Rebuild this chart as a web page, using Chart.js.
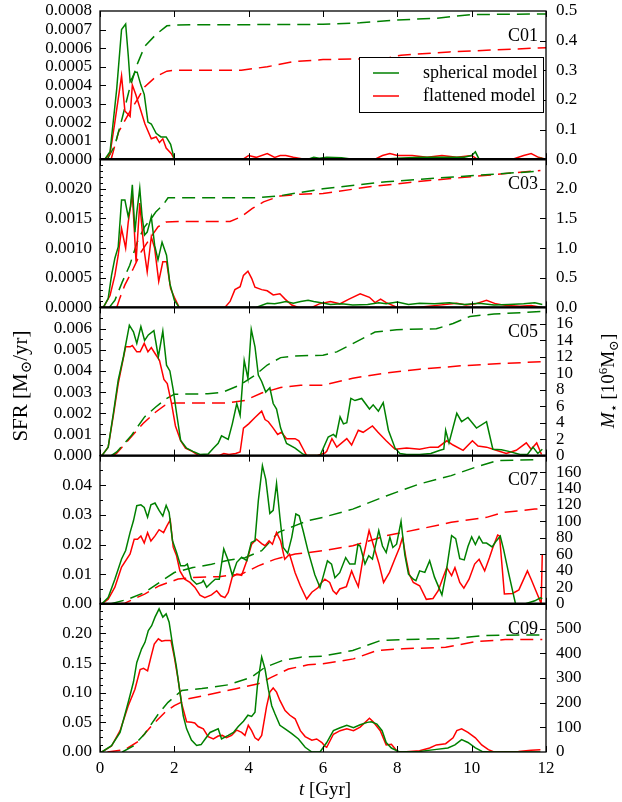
<!DOCTYPE html>
<html>
<head>
<meta charset="utf-8">
<script src="https://cdn.jsdelivr.net/npm/chart.js@4"></script>
<style>
  html, body { margin: 0; padding: 0; background: #fff; }
  #wrap { position: relative; width: 622px; height: 802px; }
  #wrap canvas { position: absolute; left: 0; top: 0; }
</style>
</head>
<body>
<div id="wrap"></div>
<script>
// panels and axes
const panelNames = ['C01', 'C03', 'C05', 'C07', 'C09'];
const sfrMax = [0.0008, 0.0025, 0.007, 0.05, 0.25];
const sfrStep = [0.0001, 0.0005, 0.001, 0.01, 0.05];
const sfrMinor = [0, 0.0001, 0.0005, 0.005, 0.0125];
const sfrDigits = [4, 4, 3, 2, 2];
const massMax = [0.5, 2.5, 18, 180, 600];
const massStep = [0.1, 0.5, 2, 20, 100];
const massDigits = [1, 1, 0, 0, 0];
const timeTicks = [0, 2, 4, 6, 8, 10, 12];
const legendLabels = ['spherical model', 'flattened model'];

// [t in Gyr, value]
const c01SphSfr = [[0,0],[0.13,0],[0.27,0.00004],[0.45,0.00038],[0.58,0.0007],[0.69,0.00073],[0.76,0.00056],[0.81,0.00042],[0.87,0.00044],[0.94,0.00047],[1.0,0.00047],[1.1,0.0004],[1.19,0.00035],[1.29,0.0002],[1.38,0.00019],[1.51,0.00014],[1.64,0.00012],[1.78,0.00012],[1.9,0.00008],[2.0,0],[5.6,0],[5.75,0.00001],[5.9,0.000005],[6.1,0.00001],[6.5,0.000008],[6.8,0],[7.6,0],[8.0,0.000005],[8.6,0.00001],[9.2,0.00001],[9.8,0.00001],[10.0,0.00002],[10.1,0.00004],[10.2,0],[11.5,0],[11.9,0.000005]];
const c01FlatSfr = [[0,0],[0.13,0],[0.27,0.00003],[0.4,0.0002],[0.58,0.00045],[0.67,0.00026],[0.81,0.00023],[0.87,0.0004],[0.96,0.00035],[1.07,0.00028],[1.21,0.00019],[1.38,0.00011],[1.51,0.00012],[1.6,0.00009],[1.69,0.00011],[1.78,0.00006],[1.92,0.00003],[2.0,0],[3.85,0],[4.0,0.00002],[4.2,0.00001],[4.5,0.00003],[4.7,0.00001],[4.85,0.00002],[5.0,0.00002],[5.2,0.00001],[5.5,0],[7.4,0],[7.6,0.00002],[7.8,0.00003],[8.0,0.00002],[8.4,0.00002],[8.8,0.00001],[9.2,0.00002],[9.6,0.00001],[10.0,0.00002],[10.15,0],[11.1,0],[11.4,0.00002],[11.6,0.00003],[11.8,0.00001],[12,0]];
const c01SphMass = [[0.2,0],[0.4,0.047],[0.6,0.14],[0.8,0.24],[1.0,0.32],[1.2,0.38],[1.5,0.42],[1.8,0.45],[2.0,0.453],[6.0,0.455],[7.0,0.46],[8.0,0.47],[9.0,0.475],[10.0,0.488],[12.0,0.49]];
const c01FlatMass = [[0.3,0],[0.5,0.092],[0.8,0.16],[1.0,0.2],[1.2,0.244],[1.5,0.278],[1.8,0.297],[2.0,0.3],[3.8,0.3],[4.5,0.312],[5.2,0.329],[6.0,0.336],[7.7,0.34],[8.1,0.351],[9.4,0.362],[11.6,0.374],[12,0.376]];

const c03SphSfr = [[0,0],[0.09,0],[0.22,0.00015],[0.31,0.00054],[0.4,0.00083],[0.49,0.00102],[0.58,0.00181],[0.67,0.00181],[0.76,0.00153],[0.82,0.0017],[0.87,0.00207],[0.94,0.00127],[0.99,0.0016],[1.07,0.00201],[1.13,0.00155],[1.2,0.00122],[1.27,0.00127],[1.38,0.00153],[1.47,0.00105],[1.56,0.0008],[1.67,0.0011],[1.79,0.00088],[1.88,0.0004],[2.0,0.00012],[2.13,0],[4.2,0],[4.5,0.00007],[4.7,0.00006],[4.85,0.00008],[5.0,0.0001],[5.2,0.00007],[5.4,0.0001],[5.6,0.00012],[5.75,0.0001],[5.95,0.00008],[6.2,0.00005],[6.5,0.00006],[6.8,0.00004],[7.2,0.00005],[7.5,0.00008],[7.7,0.00006],[8.0,0.00009],[8.3,0.00005],[8.6,0.00007],[9.0,0.00006],[9.4,0.00008],[9.8,0.00005],[10.2,0.00007],[10.6,0.00004],[11.0,0.00005],[11.4,0.00006],[11.7,0.00008],[11.9,0.00005]];
const c03FlatSfr = [[0,0],[0.09,0],[0.27,0.0002],[0.4,0.00054],[0.49,0.00088],[0.58,0.00133],[0.69,0.001],[0.76,0.00144],[0.87,0.00191],[0.97,0.00077],[1.07,0.00176],[1.18,0.001],[1.27,0.0006],[1.38,0.00119],[1.47,0.001],[1.58,0.00044],[1.69,0.00077],[1.79,0.00077],[1.9,0.00032],[2.0,0.00017],[2.13,0],[3.36,0],[3.5,0.0001],[3.63,0.0003],[3.77,0.00035],[3.86,0.00054],[3.98,0.00061],[4.08,0.00049],[4.17,0.00034],[4.35,0.0003],[4.5,0.00028],[4.66,0.00021],[4.84,0.00023],[4.98,0.00014],[5.16,0.00004],[5.34,0],[5.7,0],[5.9,0.00006],[6.2,0.0001],[6.45,0.00006],[6.7,0.00014],[7.0,0.00023],[7.25,0.00017],[7.4,0.00008],[7.55,0.00014],[7.7,0.00008],[8.0,0],[8.5,0],[9.0,0.00003],[9.6,0.00007],[9.85,0.00004],[10.1,0.00006],[10.4,0.00012],[10.65,0.00006],[10.95,0.00003],[11.3,0.00002],[11.6,0.00003],[11.9,0]];
const c03SphMass = [[0.25,0],[0.4,0.12],[0.6,0.43],[0.8,0.71],[1.0,1.1],[1.2,1.36],[1.38,1.5],[1.5,1.61],[1.7,1.73],[1.83,1.85],[4.25,1.85],[4.8,1.88],[6.0,2.0],[7.7,2.12],[9.5,2.2],[11.85,2.3]];
const c03FlatMass = [[0.45,0],[0.53,0.15],[0.67,0.38],[0.9,0.66],[1.1,0.93],[1.34,1.16],[1.56,1.36],[1.78,1.44],[2.1,1.45],[3.5,1.45],[3.8,1.53],[4.1,1.67],[4.4,1.78],[4.85,1.88],[5.4,1.91],[6.0,1.92],[7.2,2.03],[8.5,2.12],[9.9,2.2],[11.85,2.31]];

const c05SphSfr = [[0,0],[0.05,0],[0.22,0.0004],[0.36,0.002],[0.49,0.00356],[0.63,0.00467],[0.79,0.00616],[0.9,0.00585],[0.99,0.0053],[1.1,0.0061],[1.2,0.00544],[1.3,0.0057],[1.45,0.0059],[1.57,0.00467],[1.69,0.00588],[1.79,0.00427],[1.88,0.004],[1.97,0.0031],[2.06,0.002],[2.17,0.00072],[2.33,0.00035],[2.5,0.0002],[2.69,0.00005],[2.91,0.00008],[3.05,0.00035],[3.18,0.00058],[3.27,0.00093],[3.45,0.00076],[3.56,0.0015],[3.68,0.00246],[3.77,0.0019],[3.88,0.0045],[3.98,0.00364],[4.07,0.00596],[4.17,0.00514],[4.26,0.0038],[4.35,0.0035],[4.46,0.003],[4.57,0.0032],[4.66,0.00246],[4.75,0.0022],[4.86,0.0013],[5.02,0.00057],[5.25,0.00035],[5.45,0.00008],[5.6,0],[5.92,0],[6.14,0.00088],[6.28,0.001],[6.35,0.00088],[6.46,0.00183],[6.55,0.0015],[6.64,0.00155],[6.75,0.0027],[6.86,0.0026],[7.04,0.0027],[7.25,0.0022],[7.35,0.0024],[7.49,0.0021],[7.62,0.0025],[7.76,0.0012],[7.94,0.00035],[8.07,0.0001],[8.25,0.00005],[8.6,0.00005],[8.9,0.0001],[9.15,0.00025],[9.25,0.0003],[9.3,0.0012],[9.39,0.0006],[9.6,0.002],[9.73,0.0016],[9.9,0.0018],[10.13,0.0013],[10.4,0.0016],[10.57,0.0003],[10.8,0.00028],[11.0,0.0002],[11.3,0.00005],[11.5,0.00005],[11.65,0.0004],[11.78,0.0001],[11.9,0.0003]];
const c05FlatSfr = [[0,0],[0.05,0],[0.22,0.0004],[0.36,0.0019],[0.49,0.0034],[0.69,0.00514],[0.81,0.00514],[0.87,0.0052],[0.99,0.0049],[1.08,0.0049],[1.19,0.0053],[1.29,0.0049],[1.38,0.0051],[1.49,0.0048],[1.6,0.0045],[1.72,0.0036],[1.81,0.0034],[1.92,0.0025],[2.03,0.0014],[2.17,0.0007],[2.3,0.00035],[2.48,0.0002],[2.66,0],[3.2,0],[3.33,0.0001],[3.47,0.00005],[3.65,0.0001],[3.77,0.00017],[3.86,0.0013],[4.0,0.0015],[4.17,0.0018],[4.35,0.0021],[4.44,0.0017],[4.53,0.0016],[4.66,0.0013],[4.78,0.001],[4.88,0.0011],[5.02,0.0008],[5.25,0.0008],[5.35,0.0007],[5.47,0.0003],[5.56,0],[5.83,0],[6.05,0.00012],[6.1,0.0002],[6.24,0.0008],[6.37,0.0004],[6.64,0.0008],[6.77,0.0005],[6.95,0.0012],[7.08,0.0011],[7.33,0.0014],[7.48,0.0011],[7.7,0.0007],[7.94,0.0003],[8.25,0.00036],[8.6,0.0003],[8.89,0.0004],[9.1,0.0004],[9.33,0.0007],[9.5,0.0005],[9.77,0.00025],[10.02,0.0007],[10.17,0.00045],[10.4,0.0004],[10.66,0.00025],[10.93,0.0001],[11.2,0.00025],[11.47,0.0006],[11.6,0.0003],[11.75,0.0006],[11.88,0.00005]];
const c05SphMass = [[0.3,0],[0.45,0.45],[0.85,2.47],[1.2,4.7],[1.5,5.9],[1.78,6.9],[2.0,7.46],[2.9,7.5],[3.3,7.7],[3.76,8.55],[4.17,9.77],[4.5,11.0],[4.86,11.9],[5.25,12.1],[6.0,12.2],[6.37,12.6],[6.8,13.6],[7.4,15.0],[7.98,15.3],[9.05,15.4],[9.5,16.05],[9.95,16.9],[10.6,17.2],[11.9,17.5]];
const c05FlatMass = [[0.35,0],[0.45,0.3],[0.76,1.86],[1.16,3.9],[1.5,5.3],[1.74,6.1],[2.0,6.4],[3.45,6.4],[3.9,6.7],[4.35,7.6],[4.86,8.27],[5.4,8.55],[6.0,8.55],[6.8,9.4],[7.7,10.05],[8.6,10.5],[9.7,10.9],[10.85,11.2],[11.9,11.4]];

const c07SphSfr = [[0,0],[0.05,0],[0.22,0.0021],[0.4,0.0083],[0.58,0.0151],[0.69,0.018],[0.81,0.0241],[0.9,0.028],[0.99,0.0331],[1.1,0.0334],[1.19,0.0325],[1.28,0.0292],[1.37,0.0334],[1.48,0.034],[1.59,0.0315],[1.69,0.0296],[1.78,0.0332],[1.86,0.0308],[1.95,0.0213],[2.06,0.0173],[2.17,0.0128],[2.28,0.0128],[2.35,0.0134],[2.46,0.0083],[2.6,0.0066],[2.74,0.0072],[2.78,0.0079],[2.87,0.0056],[3.0,0.0072],[3.1,0.0083],[3.21,0.0083],[3.33,0.0185],[3.45,0.0146],[3.56,0.0096],[3.68,0.014],[3.81,0.0157],[3.95,0.0146],[4.07,0.0207],[4.17,0.0213],[4.26,0.0348],[4.37,0.0466],[4.46,0.042],[4.57,0.0305],[4.66,0.0315],[4.75,0.0406],[4.84,0.0293],[4.93,0.019],[5.05,0.017],[5.16,0.0225],[5.27,0.0303],[5.36,0.0297],[5.47,0.0244],[5.6,0.0177],[5.78,0.0098],[5.92,0.0055],[6.0,0.009],[6.12,0.0145],[6.23,0.0134],[6.32,0.0088],[6.45,0.0105],[6.61,0.0156],[6.72,0.0134],[6.86,0.0134],[6.94,0.02],[7.0,0.0195],[7.13,0.0134],[7.23,0.0162],[7.33,0.0151],[7.5,0.0247],[7.6,0.0195],[7.7,0.0173],[7.8,0.0224],[7.88,0.019],[7.98,0.0201],[8.1,0.0278],[8.2,0.0167],[8.3,0.01],[8.43,0.0083],[8.5,0.0078],[8.6,0.0111],[8.74,0.0106],[8.87,0.0145],[9.0,0.009],[9.2,0.003],[9.3,0.0095],[9.46,0.023],[9.57,0.022],[9.68,0.0152],[9.8,0.0148],[9.9,0.0193],[10.0,0.0226],[10.1,0.02],[10.2,0.0227],[10.3,0.0205],[10.4,0.0205],[10.55,0.0192],[10.65,0.021],[10.77,0.0228],[10.86,0.0183],[11.0,0.01],[11.18,0],[11.45,0],[11.7,0.001],[11.85,0.002],[11.9,0.0017]];
const c07FlatSfr = [[0,0],[0.05,0],[0.22,0.0015],[0.4,0.0056],[0.58,0.0124],[0.81,0.0168],[0.92,0.0218],[1.01,0.0218],[1.1,0.0229],[1.19,0.0205],[1.28,0.024],[1.37,0.0212],[1.48,0.0229],[1.59,0.025],[1.71,0.024],[1.8,0.0263],[1.89,0.0283],[1.97,0.0191],[2.06,0.0162],[2.15,0.0111],[2.28,0.0083],[2.42,0.0072],[2.55,0.0056],[2.69,0.0029],[2.82,0.0021],[3.0,0.003],[3.14,0.0044],[3.25,0.0027],[3.36,0.0021],[3.45,0.0038],[3.56,0.0091],[3.68,0.01],[3.81,0.0096],[3.95,0.0145],[4.08,0.0201],[4.21,0.0218],[4.35,0.0203],[4.44,0.0196],[4.55,0.0212],[4.64,0.0201],[4.75,0.0241],[4.86,0.0212],[4.97,0.015],[5.1,0.0167],[5.25,0.0105],[5.39,0.0061],[5.56,0.0016],[5.7,0.0039],[5.87,0.0055],[5.92,0.0066],[6.05,0.0083],[6.18,0.0072],[6.27,0.0044],[6.36,0.0033],[6.45,0.005],[6.63,0.0058],[6.77,0.0111],[6.86,0.0083],[6.95,0.0058],[7.08,0.0156],[7.24,0.0247],[7.35,0.0201],[7.51,0.0134],[7.63,0.0072],[7.79,0.0106],[7.93,0.015],[8.06,0.019],[8.14,0.0224],[8.23,0.0156],[8.32,0.01],[8.43,0.0072],[8.6,0.0061],[8.78,0.0015],[8.96,0.0018],[9.1,0.0044],[9.23,0.0089],[9.33,0.0122],[9.46,0.0095],[9.55,0.0122],[9.68,0.0072],[9.79,0.0053],[9.93,0.0083],[10.08,0.0134],[10.2,0.015],[10.35,0.0111],[10.48,0.0156],[10.57,0.019],[10.7,0.0232],[10.75,0.0229],[10.88,0.0033],[11.1,0.0035],[11.27,0.0047],[11.5,0.0111],[11.6,0.0083],[11.8,0.0022],[11.87,0],[11.9,0.0168]];
const c07SphMass = [[0.3,0],[0.76,5.7],[1.2,13.8],[1.6,26],[2.0,38],[2.5,44],[3.0,48],[3.45,53],[3.9,56],[4.35,64.5],[4.8,86.7],[5.25,95],[5.6,101],[6.0,105],[6.8,115],[7.7,131],[8.6,145.6],[9.45,155.7],[10.1,165.8],[10.7,174],[11.8,175]];
const c07FlatMass = [[0.5,0],[0.67,0.8],[1.2,11.8],[1.6,22],[2.1,30],[2.5,32],[3.2,33],[3.8,36],[4.26,46],[4.7,54],[5.25,60.4],[6.0,64.5],[6.8,70.5],[7.7,82.7],[8.6,90.8],[9.45,99],[10.4,105],[10.85,111],[11.7,115],[11.9,115.5]];

const c09SphSfr = [[0,0],[0.05,0],[0.31,0.0107],[0.54,0.033],[0.76,0.084],[0.9,0.118],[0.99,0.151],[1.12,0.174],[1.21,0.185],[1.3,0.205],[1.39,0.213],[1.48,0.2275],[1.59,0.2415],[1.69,0.2275],[1.78,0.233],[1.86,0.219],[1.95,0.182],[2.05,0.146],[2.15,0.101],[2.24,0.061],[2.33,0.039],[2.46,0.02],[2.6,0.011],[2.72,0.0125],[2.83,0.022],[2.96,0.033],[3.18,0.039],[3.27,0.022],[3.45,0.028],[3.59,0.033],[3.72,0.043],[3.86,0.052],[3.98,0.062],[4.08,0.06],[4.17,0.067],[4.24,0.115],[4.35,0.16],[4.44,0.14],[4.53,0.106],[4.62,0.078],[4.71,0.064],[4.84,0.045],[4.98,0.039],[5.16,0.031],[5.34,0.022],[5.52,0.0079],[5.7,0],[5.92,0],[6.1,0.016],[6.28,0.036],[6.46,0.041],[6.64,0.045],[6.82,0.041],[7.0,0.046],[7.19,0.05],[7.3,0.051],[7.45,0.047],[7.59,0.036],[7.7,0.016],[7.84,0.0067],[8.06,0],[8.6,0.001],[9.0,0.004],[9.36,0.0067],[9.55,0.012],[9.73,0.021],[9.9,0.016],[10.1,0.007],[10.28,0.001],[10.55,0],[11.85,0]];
const c09FlatSfr = [[0,0],[0.05,0],[0.31,0.01],[0.54,0.036],[0.76,0.078],[0.94,0.106],[1.08,0.139],[1.17,0.141],[1.28,0.137],[1.37,0.16],[1.46,0.182],[1.57,0.191],[1.66,0.187],[1.75,0.188],[1.91,0.188],[2.0,0.16],[2.1,0.123],[2.2,0.081],[2.33,0.051],[2.46,0.05],[2.55,0.049],[2.64,0.043],[2.78,0.039],[2.91,0.026],[3.05,0.022],[3.18,0.027],[3.29,0.028],[3.4,0.024],[3.54,0.028],[3.68,0.037],[3.81,0.033],[3.9,0.028],[3.99,0.045],[4.08,0.036],[4.17,0.024],[4.26,0.02],[4.35,0.028],[4.48,0.076],[4.57,0.101],[4.66,0.108],[4.75,0.101],[4.84,0.087],[4.98,0.07],[5.11,0.062],[5.25,0.056],[5.39,0.036],[5.52,0.026],[5.7,0.02],[5.83,0.022],[5.97,0.016],[6.05,0.01],[6.1,0.008],[6.28,0.03],[6.46,0.036],[6.64,0.039],[6.82,0.036],[7.0,0.042],[7.25,0.057],[7.35,0.051],[7.54,0.036],[7.7,0.012],[7.84,0.013],[8.0,0.001],[8.15,0],[8.6,0.002],[8.87,0.0067],[9.05,0.012],[9.3,0.014],[9.5,0.024],[9.6,0.036],[9.73,0.039],[9.9,0.033],[10.1,0.024],[10.27,0.012],[10.45,0.004],[10.6,0],[11.26,0.001],[11.6,0.003],[11.85,0.004]];
const c09SphMass = [[0.6,0],[0.9,25],[1.2,73],[1.57,154],[1.83,201],[2.2,249],[2.74,257],[3.45,272],[4.08,303],[4.44,343],[4.9,370],[5.4,384],[6.0,388],[6.8,411],[7.54,451],[8.15,455],[9.5,460],[10.4,472],[11.66,474],[11.9,474]];
const c09FlatMass = [[0.2,0],[0.67,9],[1.03,43],[1.39,107],[1.75,161],[2.0,188],[2.37,215],[3.0,235],[3.63,255],[4.26,276],[4.62,303],[5.07,336],[5.6,353],[6.0,357],[6.82,377],[7.45,411],[8.15,418],[9.3,424],[10.1,447],[10.9,455],[11.9,455]];

const sphSfr = [c01SphSfr, c03SphSfr, c05SphSfr, c07SphSfr, c09SphSfr];
const flatSfr = [c01FlatSfr, c03FlatSfr, c05FlatSfr, c07FlatSfr, c09FlatSfr];
const sphMass = [c01SphMass, c03SphMass, c05SphMass, c07SphMass, c09SphMass];
const flatMass = [c01FlatMass, c03FlatMass, c05FlatMass, c07FlatMass, c09FlatMass];

const GREEN = '#008000';
const RED = '#ff0000';
const FONT = '"Liberation Serif", "DejaVu Serif", serif';
const W = 622, H = 802;
const LEFT = 100, RIGHT = 546, TOP = 11, BOTTOM = 752;
const PH = (BOTTOM - TOP) / 5;
const DASH = [13, 7];

function drawPieces(ctx, pieces, cx, cy, rot) {
    ctx.save();
    ctx.translate(cx, cy);
    if (rot) ctx.rotate(rot);
    ctx.textAlign = 'left';
    ctx.textBaseline = 'alphabetic';
    ctx.fillStyle = '#000';
    let total = 0;
    pieces.forEach(p => { ctx.font = p.font; p.w = ctx.measureText(p.text).width; total += p.w; });
    let px = -total / 2;
    pieces.forEach(p => { ctx.font = p.font; ctx.fillText(p.text, px, p.dy || 0); px += p.w; });
    ctx.restore();
}

function decor(i) {
    return {
        id: 'decor' + i,
        afterDatasetsDraw(chart) {
            const ctx = chart.ctx;
            const a = chart.chartArea;
            const x = chart.scales.x, y = chart.scales.y, y1 = chart.scales.y1;
            ctx.save();
            ctx.strokeStyle = '#000';

            // tick marks, pointing inwards
            ctx.lineWidth = 1;
            ctx.beginPath();
            timeTicks.forEach(t => {
                const px = Math.round(x.getPixelForValue(t)) + 0.5;
                ctx.moveTo(px, a.bottom); ctx.lineTo(px, a.bottom - 6);
                ctx.moveTo(px, a.top); ctx.lineTo(px, a.top + 6);
            });
            const nMaj = Math.round(sfrMax[i] / sfrStep[i]);
            for (let k = 1; k < nMaj; k++) {
                const py = Math.round(y.getPixelForValue(k * sfrStep[i])) + 0.5;
                ctx.moveTo(a.left, py); ctx.lineTo(a.left + 6, py);
            }
            if (sfrMinor[i]) {
                const nMin = Math.round(sfrMax[i] / sfrMinor[i]);
                for (let k = 1; k < nMin; k++) {
                    const py = Math.round(y.getPixelForValue(k * sfrMinor[i])) + 0.5;
                    ctx.moveTo(a.left, py); ctx.lineTo(a.left + 3, py);
                }
            }
            const nMass = Math.round(massMax[i] / massStep[i]);
            for (let k = 1; k < nMass; k++) {
                const py = Math.round(y1.getPixelForValue(k * massStep[i])) + 0.5;
                ctx.moveTo(a.right, py); ctx.lineTo(a.right - 6, py);
            }
            ctx.stroke();

            // frame
            ctx.lineWidth = 1.3;
            ctx.strokeRect(a.left, a.top, a.right - a.left, a.bottom - a.top);
            if (i < 4) {
                ctx.lineWidth = 2.4;
                ctx.beginPath();
                ctx.moveTo(a.left, a.bottom); ctx.lineTo(a.right, a.bottom);
                ctx.stroke();
            }

            // panel name
            ctx.fillStyle = '#000';
            ctx.font = '18px ' + FONT;
            ctx.textAlign = 'right';
            ctx.textBaseline = 'middle';
            ctx.fillText(panelNames[i], a.right - 8, a.top + 25);

            if (i === 0) {
                const bx = 359, by = 57, bw = 184, bh = 55;
                ctx.fillStyle = '#fff';
                ctx.fillRect(bx, by, bw, bh);
                ctx.lineWidth = 1;
                ctx.strokeStyle = '#000';
                ctx.strokeRect(bx + 0.5, by + 0.5, bw, bh);
                [GREEN, RED].forEach((c, k) => {
                    const ly = by + 16 + k * 23;
                    ctx.strokeStyle = c;
                    ctx.lineWidth = 1.5;
                    ctx.beginPath();
                    ctx.moveTo(bx + 14, ly); ctx.lineTo(bx + 40, ly);
                    ctx.stroke();
                    ctx.fillStyle = '#000';
                    ctx.font = '18px ' + FONT;
                    ctx.textAlign = 'left';
                    ctx.fillText(legendLabels[k], bx + 64, ly);
                });
            }

            if (i === 2) {
                const big = '19px ' + FONT, small = '13px ' + FONT;
                drawPieces(ctx, [
                    { text: 'SFR [M', font: '21px ' + FONT },
                    { text: '\u2299', font: '15px ' + FONT, dy: 4 },
                    { text: '/yr]', font: '21px ' + FONT }
                ], 27, 386, -Math.PI / 2);
                drawPieces(ctx, [
                    { text: 'M', font: 'italic ' + big },
                    { text: '\u22c6', font: small, dy: 4 },
                    { text: ' [10', font: big },
                    { text: '6', font: small, dy: -7 },
                    { text: 'M', font: big },
                    { text: '\u2299', font: small, dy: 4 },
                    { text: ']', font: big }
                ], 614, 381, -Math.PI / 2);
            }

            if (i === 4) {
                drawPieces(ctx, [
                    { text: 't', font: 'italic 19px ' + FONT },
                    { text: ' [Gyr]', font: '19px ' + FONT }
                ], 325, 795, 0);
            }
            ctx.restore();
        }
    };
}

function makePanel(i) {
    const canvas = document.createElement('canvas');
    canvas.width = W;
    canvas.height = H;
    document.getElementById('wrap').appendChild(canvas);
    const top = TOP + i * PH, bottom = top + PH;
    const last = i === 4;
    const tickFont = { family: FONT, size: 17 };
    const hideTop = (v, max) => i > 0 && Math.abs(v - max) < max * 1e-6;
    const noPad = s => { s.paddingTop = 0; s.paddingBottom = 0; s.paddingLeft = 0; s.paddingRight = 0; };

    new Chart(canvas, {
        type: 'line',
        data: {
            datasets: [
                { data: sphSfr[i], yAxisID: 'y', borderColor: GREEN },
                { data: flatSfr[i], yAxisID: 'y', borderColor: RED },
                { data: sphMass[i], yAxisID: 'y1', borderColor: GREEN, borderDash: DASH },
                { data: flatMass[i], yAxisID: 'y1', borderColor: RED, borderDash: DASH }
            ]
        },
        options: {
            responsive: false,
            animation: false,
            devicePixelRatio: 1,
            layout: { padding: { top: top, bottom: last ? 0 : H - bottom, left: 0, right: 0 } },
            plugins: { legend: { display: false }, tooltip: { enabled: false } },
            elements: {
                point: { radius: 0 },
                line: { borderWidth: 1.5, tension: 0, fill: false }
            },
            scales: {
                x: {
                    type: 'linear', min: 0, max: 12, display: last,
                    afterFit: s => { s.height = last ? H - BOTTOM : 0; noPad(s); },
                    grid: { display: false, drawTicks: false },
                    border: { display: false },
                    ticks: { stepSize: 2, padding: 6, color: '#000', font: tickFont, maxRotation: 0, autoSkip: false }
                },
                y: {
                    type: 'linear', position: 'left', min: 0, max: sfrMax[i],
                    afterFit: s => { s.width = LEFT; noPad(s); },
                    grid: { display: false, drawTicks: false },
                    border: { display: false },
                    ticks: {
                        stepSize: sfrStep[i], padding: 8, color: '#000', font: tickFont, autoSkip: false,
                        callback: v => hideTop(v, sfrMax[i]) ? '' : v.toFixed(sfrDigits[i])
                    }
                },
                y1: {
                    type: 'linear', position: 'right', min: 0, max: massMax[i],
                    afterFit: s => { s.width = W - RIGHT; noPad(s); },
                    grid: { display: false, drawTicks: false },
                    border: { display: false },
                    ticks: {
                        stepSize: massStep[i], padding: 10, color: '#000', font: tickFont, autoSkip: false,
                        callback: v => hideTop(v, massMax[i]) ? '' : v.toFixed(massDigits[i])
                    }
                }
            }
        },
        plugins: [decor(i)]
    });
}

panelNames.forEach((_, i) => makePanel(i));
</script>
</body>
</html>
